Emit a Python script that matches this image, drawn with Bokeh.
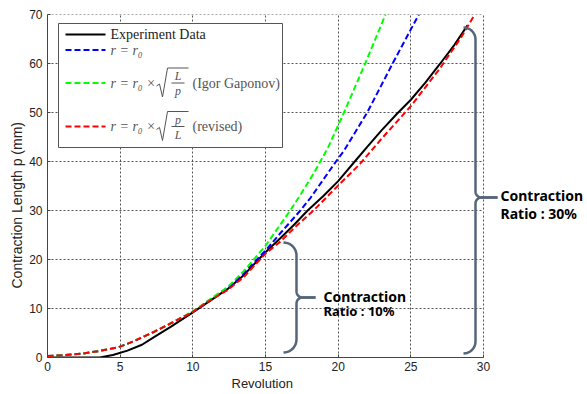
import math
from bokeh.plotting import figure
from bokeh.models import Range1d, FixedTicker, Label, Title
from bokeh.embed import file_html
from bokeh.resources import INLINE

# ---------------- data ----------------
x_ticks = [0, 5, 10, 15, 20, 25, 30]
y_ticks = [0, 10, 20, 30, 40, 50, 60, 70]

exp_x = [0, 3.6, 4.5, 5.5, 6.5, 7.3, 8.5, 10, 11, 12.4, 13.5, 15, 16, 17, 17.9, 19, 20,
         21.2, 22, 23, 24, 25, 26, 27, 28, 28.9]
exp_y = [0, 0, 0.5, 1.4, 2.6, 4.1, 6.3, 9.2, 11.2, 14.0, 16.8, 21.5, 24.3, 27.2, 30, 33, 36,
         40.2, 43, 46.4, 49.6, 52.6, 56.1, 59.9, 63.8, 67.8]

red_x = [0, 1, 2.3, 3.5, 4.9, 6, 7.3, 8.5, 10, 11, 12.4, 13.5, 15, 16, 17, 18.3, 19.9,
         21.5, 23, 25, 27, 28.5, 29.4]
red_y = [0.3, 0.45, 0.75, 1.3, 2.1, 3.4, 5.2, 7.0, 9.3, 11.3, 13.8, 16.4, 21.2, 23.6, 26.5,
         30, 34.8, 39.5, 44.7, 51.3, 59, 65.5, 70]

blue_x = [0, 1, 2.3, 3.5, 4.9, 6, 7.3, 8.5, 10, 11, 12.4, 13.5, 15, 16, 17.4, 18.1, 19.9,
          20.4, 22, 23.8, 25.55]
blue_y = [0.3, 0.45, 0.75, 1.3, 2.1, 3.4, 5.2, 7.0, 9.3, 11.4, 14.2, 17.2, 21.8, 25.3, 30,
          32.6, 40.2, 42.2, 50, 60.3, 70]

green_x = [0, 1, 2.3, 3.5, 4.9, 6, 7.3, 8.5, 10, 11, 12.4, 13.5, 15, 16.7, 17.4, 18.3, 19.3,
           20.4, 21.9, 23.26]
green_y = [0.3, 0.45, 0.75, 1.3, 2.1, 3.4, 5.2, 7.0, 9.4, 11.5, 14.4, 17.6, 22.8, 30, 33.2,
           37.5, 42.8, 50, 60.3, 70]

legend_labels = ["Experiment Data", "r = r\u2080", "r = r\u2080 \u00d7", "(Igor Gaponov)",
                 "r = r\u2080 \u00d7", "(revised)"]
note_lines_10 = ["Contraction", "Ratio : 10%"]
note_lines_30 = ["Contraction", "Ratio : 30%"]
x_label = "Revolution"
y_label = "Contraction Length p (mm)"

# ---------------- layout helpers (pixel -> data) ----------------
PX_L, PX_R30, PX_T, PX_B = 47, 483, 14, 357
W, H = 587, 394
SX = (PX_R30 - PX_L) / 30.0
SY = (PX_B - PX_T) / 70.0


def dx(px):
    return (px - PX_L) / SX


def dy(py):
    return (PX_B - py) / SY


p = figure(width=W, height=H, x_range=Range1d(0, dx(W)), y_range=Range1d(0, 70),
           output_backend="svg", toolbar_location=None,
           min_border_left=PX_L, min_border_right=0, min_border_top=PX_T,
           min_border_bottom=H - PX_B)
p.outline_line_color = None
p.background_fill_color = "white"
p.border_fill_color = "white"

for ax in (p.xaxis[0], p.yaxis[0]):
    ax.major_label_text_font = "Liberation Sans"
    ax.major_label_text_font_size = "12px"
    ax.major_label_text_color = "#222222"
    ax.axis_line_color = "#444444"
    ax.major_tick_line_color = "#444444"
    ax.major_tick_in = 3
    ax.major_tick_out = 0
    ax.minor_tick_line_color = None
p.xaxis.ticker = FixedTicker(ticks=x_ticks)
p.yaxis.ticker = FixedTicker(ticks=y_ticks)
p.xaxis.bounds = (0, 30)
p.xaxis.major_label_standoff = 4
p.yaxis.major_label_standoff = 5

# axis titles as side-panel titles (positioned like the reference)
p.add_layout(Title(text=x_label, align="left", offset=184, standoff=1,
                   text_font="Liberation Sans", text_font_size="13px",
                   text_font_style="normal", text_color="#222222"), "below")
p.add_layout(Title(text=y_label, align="left", offset=69, standoff=4,
                   text_font="Liberation Sans", text_font_size="14px",
                   text_font_style="normal", text_color="#222222"), "left")

p.xgrid.grid_line_color = "#555555"
p.xgrid.grid_line_dash = "2 2"
p.xgrid.grid_line_width = 1
p.ygrid.visible = False
# horizontal grid lines limited to x in [0, 30]
p.segment(x0=[0] * (len(y_ticks) - 1), x1=[30] * (len(y_ticks) - 1),
          y0=y_ticks[1:], y1=y_ticks[1:], line_color="#555555",
          line_dash="2 2", line_width=1)

# ---------------- curves ----------------
p.line(exp_x, exp_y, line_color="black", line_width=2)
p.line(blue_x, blue_y, line_color="#0000ff", line_width=2, line_dash="6 3")
p.line(green_x, green_y, line_color="#00ff00", line_width=2, line_dash="6 3")
p.line(red_x, red_y, line_color="#ff0000", line_width=2, line_dash="6 3")

# ---------------- legend box ----------------
p.quad(left=dx(58), right=dx(282), top=dy(23), bottom=dy(147),
       fill_color="white", line_color="#555555", line_width=1)
leg_rows = [34, 49.5, 82.5, 126]
p.line([dx(65), dx(105)], [dy(leg_rows[0])] * 2, line_color="black", line_width=2)
p.line([dx(65), dx(105)], [dy(leg_rows[1])] * 2, line_color="#0000ff", line_width=2,
       line_dash="6 3")
p.line([dx(65), dx(105)], [dy(leg_rows[2])] * 2, line_color="#00ff00", line_width=2,
       line_dash="6 3")
p.line([dx(65), dx(105)], [dy(leg_rows[3])] * 2, line_color="#ff0000", line_width=2,
       line_dash="6 3")


def txt(s, px, py, size="14px", color="#555555", font="Liberation Serif",
        style="normal", align="left", baseline="middle", angle=0.0):
    p.add_layout(Label(x=dx(px), y=dy(py), text=s, text_font=font,
                       text_font_size=size, text_color=color, text_font_style=style,
                       text_align=align, text_baseline=baseline, angle=angle))


txt(legend_labels[0], 110, leg_rows[0], color="#222222")
txt(legend_labels[1], 110, leg_rows[1], style="italic")
txt(legend_labels[2], 110, leg_rows[2], style="italic")
txt(legend_labels[3], 192, leg_rows[2])
txt(legend_labels[4], 110, leg_rows[3], style="italic")
txt(legend_labels[5], 192, leg_rows[3])

# radicals and fractions (legend maths)
for row, top_letter, bot_letter in ((leg_rows[2], "L", "p"), (leg_rows[3], "p", "L")):
    rx = [156, 159, 162, 167, 188]
    ry = [row + 3, row + 1, row + 14, row - 15, row - 15]
    p.line([dx(v) for v in rx], [dy(v) for v in ry], line_color="#555555", line_width=1)
    p.line([dx(171), dx(184)], [dy(row)] * 2, line_color="#555555", line_width=1)
    txt(top_letter, 177.5, row - 7, size="12px", style="italic", align="center")
    txt(bot_letter, 177.5, row + 8, size="12px", style="italic", align="center")


# ---------------- braces ----------------
def brace(xe, xb, xt, yt, ym, yb, r2, n=10):
    r = xb - xe
    top = []
    for i in range(n + 1):
        t = (math.pi / 2) * i / n
        top.append((xe + r * math.sin(t), yt + r - r * math.cos(t)))
    for i in range(n + 1):
        t = (math.pi / 2) * i / n
        top.append((xb + r2 - r2 * math.cos(t), ym - r2 + r2 * math.sin(t)))
    top.append((xt, ym))
    bot = []
    for i in range(n + 1):
        t = (math.pi / 2) * i / n
        bot.append((xe + r * math.sin(t), yb - r + r * math.cos(t)))
    for i in range(n + 1):
        t = (math.pi / 2) * i / n
        bot.append((xb + r2 - r2 * math.cos(t), ym + r2 - r2 * math.sin(t)))
    bot.append((xt, ym))
    for part in (top, bot):
        p.line([dx(a) for a, _ in part], [dy(b) for _, b in part],
               line_color="#56667a", line_width=2.5)


brace(283, 296, 315, 242, 297, 352, 6)
brace(463, 475, 497, 27, 197, 353, 6)

# ---------------- notes ----------------
txt(note_lines_10[0], 323, 296, size="14px", color="black", font="Noto Sans",
    style="bold", baseline="alphabetic")
txt(note_lines_10[1], 323, 310, size="13px", color="black", font="Noto Sans",
    style="bold", baseline="alphabetic")
txt(note_lines_30[0], 500, 195, size="14px", color="black", font="Noto Sans",
    style="bold", baseline="alphabetic")
txt(note_lines_30[1], 500, 213, size="14px", color="black", font="Noto Sans",
    style="bold", baseline="alphabetic")

open("out.html", "w").write(file_html(p, INLINE))
